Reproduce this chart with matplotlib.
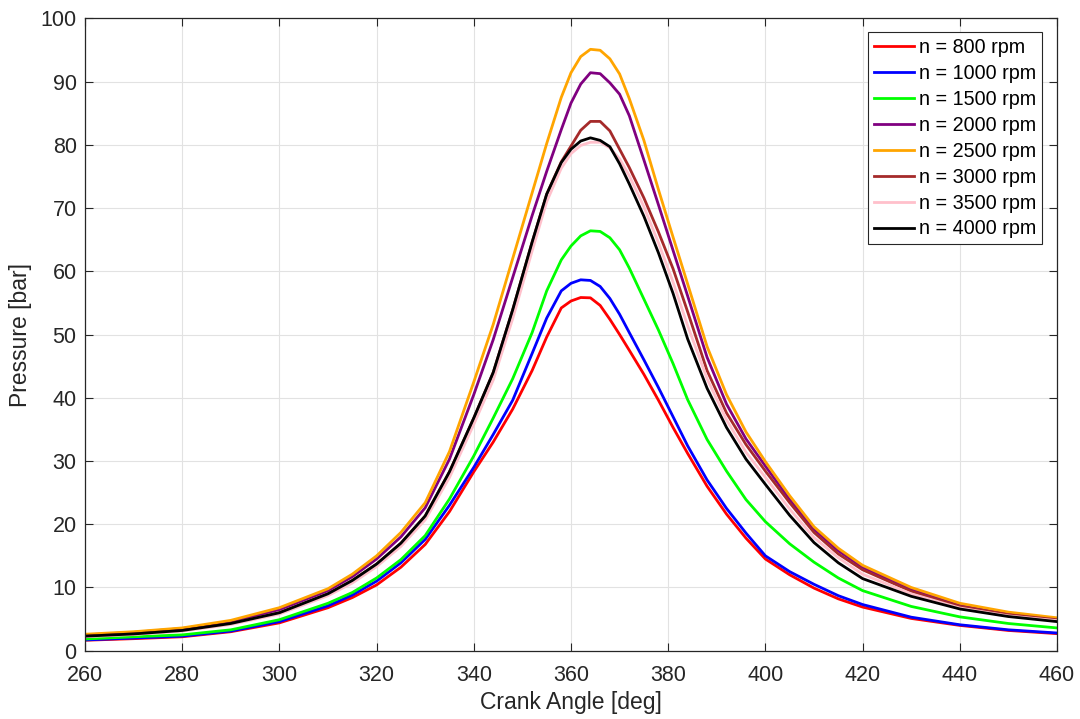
import numpy as np
import matplotlib
matplotlib.use("Agg")
from matplotlib import pyplot as plt

plt.rcParams['font.family'] = ['Liberation Sans', 'DejaVu Sans']

# crank angle points the curves were read at
angle = [260, 270, 280, 290, 300, 310, 315, 320, 325, 330, 335, 340, 344, 348, 352,
         355, 358, 360, 362, 364, 366, 368, 370, 372, 375, 378, 381, 384,
         388, 392, 396, 400, 405, 410, 415, 420, 430, 440, 450, 460]

# pressure [bar] per engine speed
p_800 = [1.65, 1.9, 2.2, 3.0, 4.4, 6.8, 8.4, 10.4, 13.2, 16.8, 22.0, 28.3, 33.0, 38.2, 44.3,
         49.6, 54.2, 55.3, 55.85, 55.8, 54.6, 52.4, 50.0, 47.5, 43.7, 39.6, 35.3, 31.2,
         26.0, 21.6, 17.8, 14.5, 12.0, 9.9, 8.2, 6.9, 5.1, 4.0, 3.2, 2.7]
p_1000 = [1.7, 2.0, 2.3, 3.1, 4.6, 7.1, 8.8, 11.0, 13.9, 17.6, 23.0, 29.0, 34.2, 39.6, 47.0,
          52.6, 56.9, 58.1, 58.65, 58.55, 57.6, 55.7, 53.2, 50.3, 46.0, 41.6, 37.0, 32.4,
          27.0, 22.5, 18.6, 15.0, 12.5, 10.5, 8.7, 7.3, 5.3, 4.1, 3.3, 2.8]
p_1500 = [1.85, 2.2, 2.5, 3.3, 4.9, 7.5, 9.2, 11.5, 14.4, 18.2, 24.0, 30.8, 36.8, 43.0, 50.3,
          56.9, 61.8, 64.0, 65.6, 66.4, 66.3, 65.3, 63.4, 60.5, 55.6, 50.7, 45.4, 39.7,
          33.4, 28.4, 23.9, 20.4, 16.9, 14.0, 11.5, 9.5, 7.0, 5.35, 4.3, 3.6]
p_2000 = [2.5, 2.9, 3.5, 4.6, 6.5, 9.5, 11.7, 14.5, 18.0, 22.6, 30.3, 40.5, 49.2, 59.0, 68.8,
          75.8, 82.4, 86.6, 89.6, 91.4, 91.25, 89.8, 88.0, 84.6, 77.6, 70.5, 63.3, 56.1,
          46.4, 39.0, 33.5, 29.2, 23.9, 19.2, 15.8, 13.2, 9.7, 7.3, 5.9, 5.0]
p_2500 = [2.6, 3.0, 3.6, 4.8, 6.8, 9.8, 12.1, 15.0, 18.7, 23.4, 31.5, 42.5, 51.6, 62.0, 72.4,
          80.2, 87.5, 91.4, 93.95, 95.1, 94.95, 93.6, 91.2, 87.3, 80.7, 72.9, 65.4, 58.0,
          48.1, 40.5, 34.6, 29.9, 24.5, 19.6, 16.2, 13.5, 10.0, 7.5, 6.1, 5.2]
p_3000 = [2.3, 2.65, 3.2, 4.3, 6.0, 9.0, 11.1, 13.7, 17.0, 21.3, 28.3, 36.8, 44.0, 53.9, 64.6,
          72.2, 77.3, 79.8, 82.3, 83.7, 83.7, 82.2, 79.3, 76.4, 71.6, 66.2, 60.4, 53.6,
          44.3, 37.6, 32.6, 28.4, 23.4, 18.7, 15.3, 12.8, 9.4, 7.0, 5.7, 4.9]
p_3500 = [2.2, 2.55, 3.1, 4.15, 5.8, 8.7, 10.7, 13.3, 16.5, 20.7, 27.4, 35.8, 42.8, 52.5, 63.2,
          71.0, 76.3, 78.6, 79.9, 80.4, 80.4, 79.5, 77.8, 75.1, 70.2, 64.5, 58.3, 51.4,
          43.0, 36.5, 31.4, 27.4, 22.4, 17.9, 14.7, 12.1, 9.0, 6.75, 5.5, 4.75]
p_4000 = [2.3, 2.65, 3.2, 4.3, 6.0, 9.0, 11.1, 13.7, 17.0, 21.3, 28.3, 36.8, 44.0, 53.9, 64.6,
          72.2, 77.2, 79.3, 80.6, 81.1, 80.7, 79.7, 77.0, 73.8, 68.7, 62.9, 56.5, 49.3,
          41.5, 35.3, 30.3, 26.3, 21.4, 17.1, 13.9, 11.4, 8.6, 6.6, 5.4, 4.6]

speeds = [800, 1000, 1500, 2000, 2500, 3000, 3500, 4000]
curves = [p_800, p_1000, p_1500, p_2000, p_2500, p_3000, p_3500, p_4000]
colors = ['#FF0000', '#0000FF', '#00FF00', '#800080', '#FFA500', '#A52A2A', '#FFC0CB', '#000000']

fig = plt.figure(figsize=(10.8, 7.19), dpi=100)
ax = fig.add_axes([0.0787, 0.095, 0.9, 0.8795])

for n, p, c in zip(speeds, curves, colors):
    ax.plot(angle, p, color=c, linewidth=2.0, label="n = %d rpm" % n,
            solid_joinstyle='round')

ax.set_xlim(260, 460)
ax.set_ylim(0, 100)
ax.set_xticks(np.arange(260, 461, 20))
ax.set_yticks(np.arange(0, 101, 10))

dark = '#262626'
ax.grid(True, color='#e2e2e2', linewidth=0.8)
ax.set_axisbelow(True)
for s in ax.spines.values():
    s.set_color(dark)
    s.set_linewidth(0.9)
ax.tick_params(direction='in', length=6, width=0.8, color=dark, labelcolor=dark,
               labelsize=15.5, top=True, right=True)
ax.tick_params(axis='x', pad=10)
ax.tick_params(axis='y', pad=6)

ax.set_xlabel("Crank Angle [deg]", fontsize=16.5, color=dark, labelpad=4)
ax.set_ylabel("Pressure [bar]", fontsize=16.5, color=dark, labelpad=6)

leg = ax.legend(loc='upper right', bbox_to_anchor=(0.985, 0.978), borderaxespad=0,
                fontsize=14.2, handlelength=2.05, labelspacing=0.35, handletextpad=0.25,
                borderpad=0.3, fancybox=False, framealpha=1)
leg.get_frame().set_edgecolor(dark)
leg.get_frame().set_linewidth(0.8)

fig.savefig("out.png", dpi=100)
